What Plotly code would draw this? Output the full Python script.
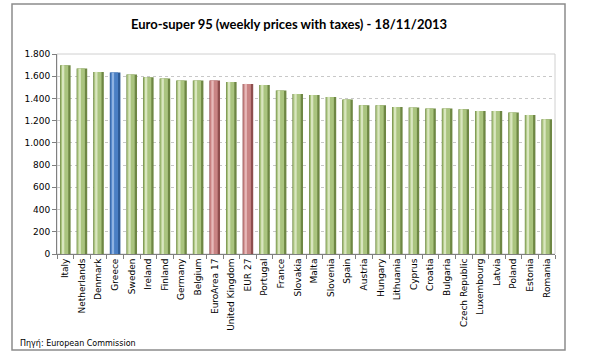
import plotly.graph_objects as go

countries = ["Italy", "Netherlands", "Denmark", "Greece", "Sweden", "Ireland", "Finland",
             "Germany", "Belgium", "EuroArea 17", "United Kingdom", "EUR 27", "Portugal",
             "France", "Slovakia", "Malta", "Slovenia", "Spain", "Austria", "Hungary",
             "Lithuania", "Cyprus", "Croatia", "Bulgaria", "Czech Republic", "Luxembourg",
             "Latvia", "Poland", "Estonia", "Romania"]
prices = [1699, 1669, 1639, 1633, 1615, 1591, 1579, 1561, 1561, 1561, 1549, 1531, 1522,
          1471, 1441, 1430, 1414, 1391, 1339, 1339, 1324, 1318, 1309, 1309, 1303, 1288,
          1288, 1273, 1252, 1213]
y_ticks = [0, 200, 400, 600, 800, 1000, 1200, 1400, 1600, 1800]

def pal(c):
    if c == "Greece":
        return ("#2d5a94", "#4a7fc4", "#8fb3e2")
    if c in ("EuroArea 17", "EUR 27"):
        return ("#8e4e4e", "#c98484", "#e7b9b9")
    return ("#6e8744", "#aac47f", "#d9e6bf")

dark = [pal(c)[0] for c in countries]
mid = [pal(c)[1] for c in countries]
light = [pal(c)[2] for c in countries]

fig = go.Figure()
fig.add_trace(go.Bar(x=countries, y=prices, width=0.64, marker=dict(color=dark, line=dict(width=0)),
                     hoverinfo="x+y"))
fig.add_trace(go.Bar(x=countries, y=prices, width=0.46, offset=-0.28,
                     marker=dict(color=mid, line=dict(width=0)), hoverinfo="skip"))
fig.add_trace(go.Bar(x=countries, y=prices, width=0.14, offset=-0.2,
                     marker=dict(color=light, line=dict(width=0)), hoverinfo="skip"))

W, H = 612, 353
l, r, t, b = 57, 57, 54, 99
pw, ph = W - l - r, H - t - b

def px(x):
    return (x - l) / pw

def py(y):
    return 1 - (y - t) / ph

fig.update_layout(
    width=W, height=H,
    margin=dict(l=l, r=r, t=t, b=b, pad=0),
    barmode="overlay",
    showlegend=False,
    paper_bgcolor="white",
    plot_bgcolor="white",
    separators=",.",
    font=dict(family="DejaVu Sans", size=9, color="#000000"),
    title=dict(text="<b>Euro-super 95 (weekly prices with taxes) - 18/11/2013</b>",
               x=289 / W, xanchor="center", y=1 - 24 / H, yanchor="middle",
               font=dict(family="Lato", size=13, color="#000000")),
    xaxis=dict(
        tickangle=-90, tickson="boundaries", ticks="outside", ticklen=4,
        tickcolor="#808080", showline=True, linecolor="#808080", linewidth=1,
        showgrid=False, tickfont=dict(size=9), range=[-0.5, len(countries) - 0.5],
    ),
    yaxis=dict(
        range=[0, 1800], tickvals=y_ticks, tickformat=",d", ticks="outside", ticklen=4,
        tickcolor="#808080", showline=True, linecolor="#808080", linewidth=1,
        showgrid=True, gridcolor="#c8c8c8", griddash="dot", gridwidth=1,
        zeroline=False, tickfont=dict(size=9),
    ),
    shapes=[
        dict(type="rect", xref="paper", yref="paper", x0=0, x1=1, y0=0, y1=1,
             line=dict(color="#d0d0d0", width=1), layer="below"),
        dict(type="rect", xref="paper", yref="paper", x0=px(12), x1=px(565),
             y0=py(350), y1=py(4), line=dict(color="#8c8c8c", width=1.5)),
    ],
    annotations=[
        dict(text="Πηγή: European Commission", xref="paper", yref="paper",
             x=px(18), y=py(343), xanchor="left", yanchor="middle", showarrow=False,
             font=dict(family="DejaVu Sans", size=8, color="#000000")),
    ],
)

fig.write_html("out.html")
